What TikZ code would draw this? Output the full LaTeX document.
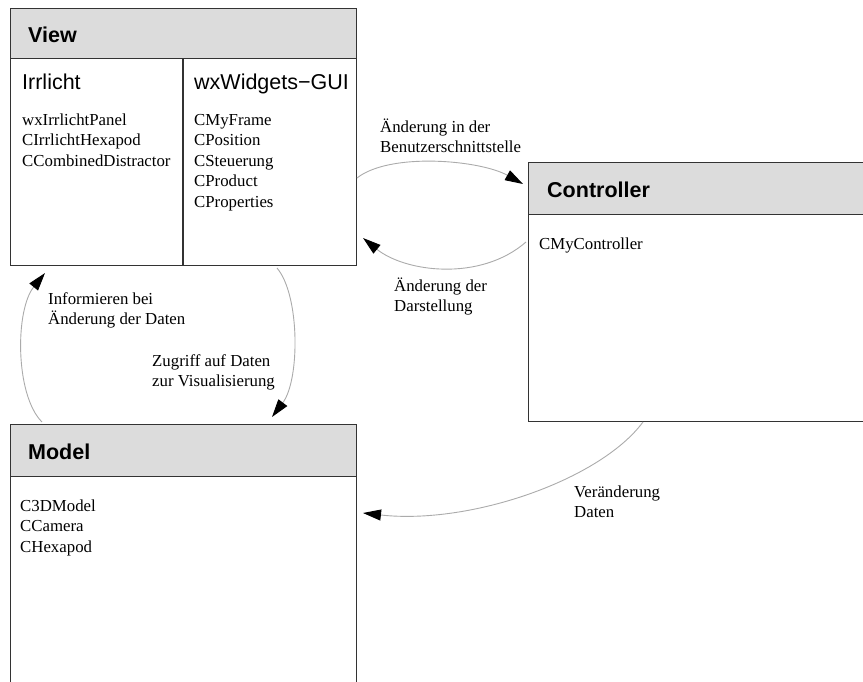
\documentclass[tikz,border=0pt]{standalone}
\usepackage{fontspec}
\setmainfont{Liberation Serif}
\newfontfamily\headfont{Liberation Sans}
\usetikzlibrary{arrows.meta}
\definecolor{headgray}{HTML}{DCDCDC}
\definecolor{framegray}{HTML}{333333}
\definecolor{flowgray}{HTML}{ABABAB}
% left-aligned block of lines whose baseline is that of its first line
\newcommand\linestack[1]{\begin{tabular}[t]{@{}l@{}}#1\end{tabular}}

\begin{document}
\begin{tikzpicture}[x=1pt,y=-1pt,
  frame/.style={draw=framegray, line width=1.2pt, rectangle, inner sep=0pt, anchor=north west},
  head/.style={frame, fill=headgray},
  title/.style={font=\headfont\bfseries\fontsize{21.5}{24}\selectfont, anchor=base west, inner sep=0pt},
  subtitle/.style={font=\headfont\fontsize{21.5}{24}\selectfont, anchor=base west, inner sep=0pt},
  items/.style={font=\fontsize{16.8}{20.5}\selectfont, anchor=base west, inner sep=0pt},
  flow/.style={draw=flowgray, line width=0.9pt, -{Triangle[length=18pt,width=11pt,color=black]}},
]
\useasboundingbox (0,0) rectangle (863,681);
\clip (0,0) rectangle (863,681);

% ---------- View ----------
\node[frame, minimum width=346pt, minimum height=257pt] (view) at (10,8) {};
\node[head, minimum width=346pt, minimum height=50pt] (viewhead) at (10,8) {};
\draw[framegray, line width=1.2pt] (183,58) -- (183,265);
\node[title] (viewtitle) at (28,42) {View};
\node[subtitle] (irr) at (22,89) {Irrlicht};
\node[subtitle] (wxgui) at (194,89) {wxWidgets−GUI};
\node[items] (irrlist) at (22,125) {\linestack{wxIrrlichtPanel\\CIrrlichtHexapod\\CCombinedDistractor}};
\node[items] (wxlist) at (194,125) {\linestack{CMyFrame\\CPosition\\CSteuerung\\CProduct\\CProperties}};

% ---------- Controller ----------
\node[frame, minimum width=347pt, minimum height=259pt] (ctrl) at (528,162) {};
\node[head, minimum width=347pt, minimum height=52pt] (ctrlhead) at (528,162) {};
\node[title] (ctrltitle) at (547,197) {Controller};
\node[items] (ctrllist) at (539,249) {CMyController};

% ---------- Model ----------
\node[frame, minimum width=346pt, minimum height=280pt] (model) at (10,424) {};
\node[head, minimum width=346pt, minimum height=52pt] (modelhead) at (10,424) {};
\node[title] (modeltitle) at (28,459) {Model};
\node[items] (modellist) at (20,511) {\linestack{C3DModel\\CCamera\\CHexapod}};

% ---------- connector end points ----------
\coordinate (v2c-s) at (357,178);
\coordinate (v2c-e) at (523,184);
\coordinate (c2v-s) at (526,242);
\coordinate (c2v-e) at (363,238);
\coordinate (m2v-s) at (42,422);
\coordinate (m2v-e) at (45,273);
\coordinate (v2m-s) at (277,268);
\coordinate (v2m-e) at (272,417);
\coordinate (c2m-s) at (643,422);
\coordinate (c2m-e) at (363,513);

% ---------- connectors ----------
\draw[flow] (v2c-s) .. controls (390,152) and (480,160) .. (v2c-e);
\draw[flow] (c2v-s) .. controls (480,282) and (405,272) .. (c2v-e);
\draw[flow] (m2v-s) .. controls (15,395) and (15,310) .. (m2v-e);
\draw[flow] (v2m-s) .. controls (300,295) and (300,380) .. (v2m-e);
\draw[flow] (c2m-s) .. controls (600,480) and (470,525) .. (c2m-e);

% ---------- connector labels ----------
\node[items] (lbl-v2c) at (380,132) {\linestack{Änderung in der\\Benutzerschnittstelle}};
\node[items] (lbl-c2v) at (394,291) {\linestack{Änderung der\\Darstellung}};
\node[items] (lbl-m2v) at (48,304) {\linestack{Informieren bei\\Änderung der Daten}};
\node[items] (lbl-v2m) at (152,366) {\linestack{Zugriff auf Daten\\zur Visualisierung}};
\node[items] (lbl-c2m) at (574,497) {\linestack{Veränderung\\Daten}};
\end{tikzpicture}
\end{document}
